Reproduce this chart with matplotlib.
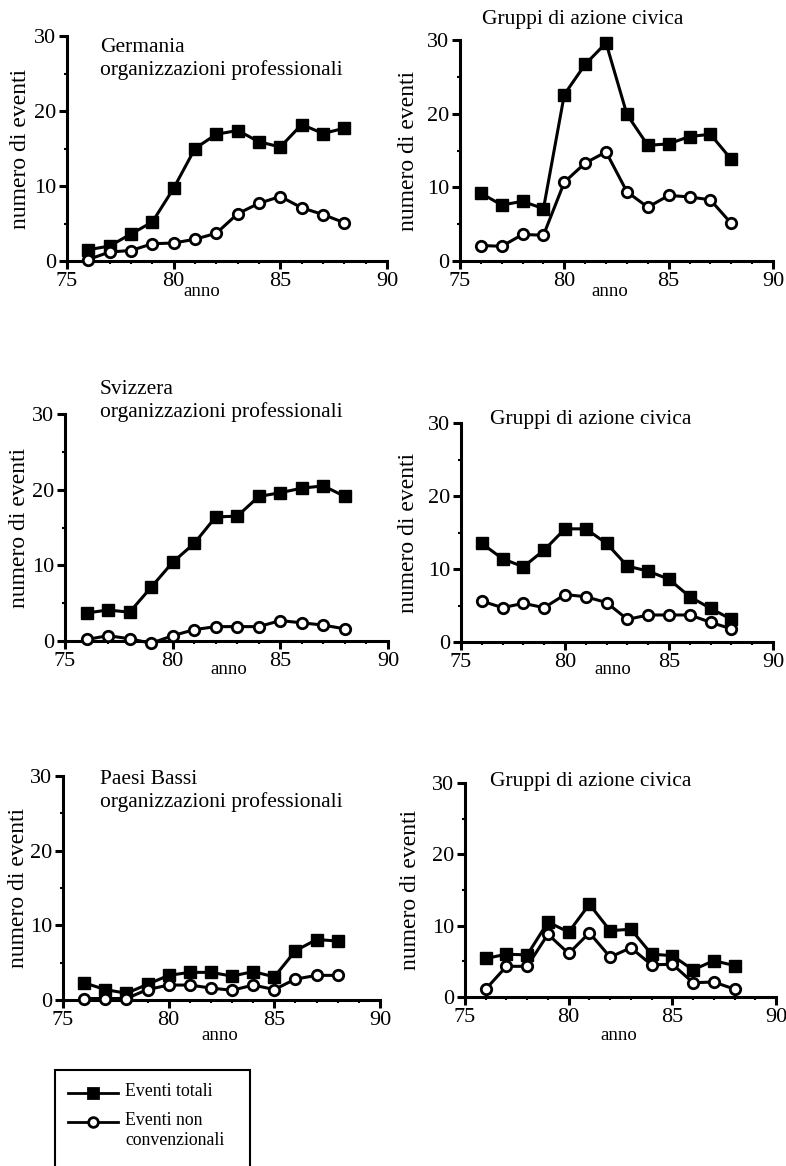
import matplotlib
matplotlib.use("Agg")
import matplotlib.pyplot as plt
from matplotlib.lines import Line2D
from matplotlib.patches import Rectangle

plt.rcParams['font.family'] = ['Liberation Serif', 'DejaVu Serif']

W, H = 786, 1166

anni = list(range(76, 89))

# Germania
ger_prof_tot = [1.5, 2.0, 3.6, 5.2, 9.7, 15.0, 16.9, 17.4, 15.9, 15.2, 18.2, 17.0, 17.7]
ger_prof_nc = [0.2, 1.2, 1.4, 2.3, 2.4, 2.9, 3.7, 6.3, 7.7, 8.6, 7.1, 6.2, 5.1]
ger_civ_tot = [9.2, 7.6, 8.1, 7.1, 22.6, 26.7, 29.6, 19.9, 15.7, 15.9, 16.9, 17.2, 13.8]
ger_civ_nc = [2.1, 2.0, 3.6, 3.5, 10.7, 13.3, 14.8, 9.4, 7.3, 8.9, 8.7, 8.3, 5.1]
# Svizzera
svi_prof_tot = [3.7, 4.1, 3.8, 7.1, 10.4, 12.9, 16.4, 16.5, 19.1, 19.6, 20.2, 20.5, 19.1]
svi_prof_nc = [0.2, 0.7, 0.3, -0.3, 0.7, 1.5, 1.9, 1.9, 1.9, 2.7, 2.4, 2.1, 1.6]
svi_civ_tot = [13.5, 11.4, 10.3, 12.6, 15.5, 15.5, 13.5, 10.4, 9.7, 8.6, 6.2, 4.6, 3.1]
svi_civ_nc = [5.6, 4.7, 5.3, 4.7, 6.5, 6.2, 5.4, 3.1, 3.7, 3.7, 3.7, 2.7, 1.8]
# Paesi Bassi
nl_prof_tot = [2.3, 1.4, 0.9, 2.1, 3.3, 3.7, 3.7, 3.2, 3.8, 3.1, 6.6, 8.1, 7.9]
nl_prof_nc = [0.2, 0.2, 0.2, 1.4, 2.0, 2.0, 1.6, 1.3, 2.0, 1.4, 2.8, 3.3, 3.3]
nl_civ_tot = [5.4, 6.0, 5.9, 10.5, 9.1, 13.0, 9.3, 9.5, 6.0, 5.8, 3.8, 5.1, 4.4]
nl_civ_nc = [1.1, 4.3, 4.3, 8.8, 6.1, 9.0, 5.6, 6.9, 4.5, 4.6, 2.0, 2.1, 1.1]


def fx(x):
    return x / W


def fy(y):
    return 1 - y / H


fig = plt.figure(figsize=(W / 100, H / 100), dpi=100)

# box in pixel (left, right, top, bottom), serie, titolo, posizione titolo, "anno", bordo ylabel
pannelli = [
    ((67, 387, 36, 261), ger_prof_tot, ger_prof_nc,
     "Germania\norganizzazioni professionali", (100, 38), 'left', 81.3, 291, 31),
    ((460, 773, 40, 261), ger_civ_tot, ger_civ_nc,
     "Gruppi di azione civica", (583, 10), 'center', 82.2, 291, 419),
    ((65, 388, 414, 641), svi_prof_tot, svi_prof_nc,
     "Svizzera\norganizzazioni professionali", (100, 380), 'left', 82.6, 670, 30),
    ((461, 773, 423, 642), svi_civ_tot, svi_civ_nc,
     "Gruppi di azione civica", (490, 410), 'left', 82.3, 670, 419),
    ((63, 380, 776, 1000), nl_prof_tot, nl_prof_nc,
     "Paesi Bassi\norganizzazioni professionali", (100, 770), 'left', 82.4, 1036, 29),
    ((465, 776, 783, 997), nl_civ_tot, nl_civ_nc,
     "Gruppi di azione civica", (490, 772), 'left', 82.4, 1036, 421),
]

for box, tot, nc, titolo, tpos, tha, anno_x, anno_y, xr in pannelli:
    l, r, t, b = box
    ax = fig.add_axes([fx(l), fy(b), fx(r) - fx(l), fy(t) - fy(b)])
    ax.plot(anni, tot, color='black', lw=2.2, marker='s', ms=8.5,
            mfc='black', mec='black', clip_on=False, zorder=3)
    ax.plot(anni, nc, color='black', lw=2.2, marker='o', ms=7.5,
            mfc='white', mec='black', mew=2, clip_on=False, zorder=4)
    ax.set_xlim(75, 90)
    ax.set_ylim(0, 30)
    ax.set_xticks([75, 80, 85, 90])
    ax.set_yticks([0, 10, 20, 30])
    ax.set_xticks(range(75, 91), minor=True)
    ax.set_yticks([5, 15, 25], minor=True)
    ax.spines['top'].set_visible(False)
    ax.spines['right'].set_visible(False)
    ax.spines['left'].set_linewidth(2.2)
    ax.spines['bottom'].set_linewidth(2.2)
    ax.tick_params(which='major', direction='out', length=6, width=2.2,
                   labelsize=16, pad=2)
    ax.tick_params(which='minor', direction='out', length=2.5, width=1.5)
    ax.set_ylabel("numero di eventi", fontsize=17)
    ax.yaxis.set_label_coords(-(l - xr) / (r - l), 0.5)
    fig.text(fx(l + (anno_x - 75) / 15 * (r - l)), fy(anno_y), "anno",
             ha='center', va='center', fontsize=13.5)
    fig.text(fx(tpos[0]), fy(tpos[1]), titolo, ha=tha, va='top',
             fontsize=15.5, linespacing=1.2)

# legenda
fig.patches.append(Rectangle((fx(55), fy(1180)), fx(250) - fx(55), fy(1070) - fy(1180),
                             transform=fig.transFigure, fill=False,
                             edgecolor='black', lw=1.5))
voci = [("Eventi totali", 's', 'black', 1093),
        ("Eventi non\nconvenzionali", 'o', 'white', 1122)]
for testo, m, fc, yy in voci:
    fig.add_artist(Line2D([fx(68), fx(118)], [fy(yy), fy(yy)], color='black', lw=2,
                          transform=fig.transFigure))
    fig.add_artist(Line2D([fx(93)], [fy(yy)], marker=m, ms=7, mfc=fc, mec='black',
                          mew=2, color='black', transform=fig.transFigure))
    fig.text(fx(125), fy(yy - 10), testo, ha='left', va='top', fontsize=12.8,
             linespacing=1.2)

fig.savefig("out.png", dpi=100)
